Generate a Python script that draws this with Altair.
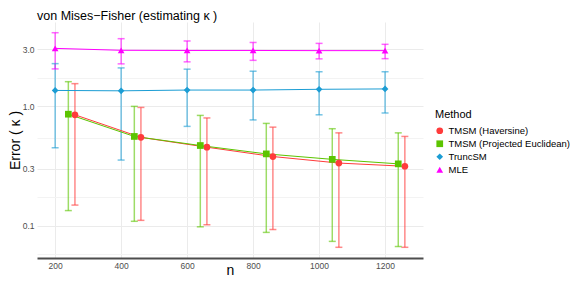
import altair as alt
import pandas as pd

n_values = [200, 400, 600, 800, 1000, 1200]
methods = ["TMSM (Haversine)", "TMSM (Projected Euclidean)", "TruncSM", "MLE"]
colors = ["#FF3B3B", "#5CC400", "#1B9DD4", "#FF00FF"]
shapes = ["circle", "square", "diamond", "triangle-up"]

hav = [0.85, 0.55, 0.455, 0.38, 0.335, 0.315]
hav_lo = [0.149, 0.111, 0.102, 0.093, 0.066, 0.066]
hav_hi = [1.55, 0.98, 0.80, 0.67, 0.60, 0.56]

proj = [0.86, 0.56, 0.47, 0.40, 0.36, 0.33]
proj_lo = [0.134, 0.109, 0.098, 0.088, 0.074, 0.067]
proj_hi = [1.61, 1.0, 0.84, 0.72, 0.65, 0.60]

trunc = [1.36, 1.35, 1.37, 1.37, 1.39, 1.40]
trunc_lo = [0.45, 0.355, 0.68, 0.77, 0.85, 0.88]
trunc_hi = [2.28, 2.10, 2.05, 1.97, 1.95, 1.95]

mle = [3.06, 2.95, 2.94, 2.94, 2.93, 2.93]
mle_lo = [2.06, 2.27, 2.36, 2.43, 2.50, 2.51]
mle_hi = [4.14, 3.69, 3.53, 3.43, 3.37, 3.31]

rows = []
for m, e, lo, hi in [
    (methods[0], hav, hav_lo, hav_hi),
    (methods[1], proj, proj_lo, proj_hi),
    (methods[2], trunc, trunc_lo, trunc_hi),
    (methods[3], mle, mle_lo, mle_hi),
]:
    for i, n in enumerate(n_values):
        rows.append({"method": m, "n": n, "err": e[i], "lo": lo[i], "hi": hi[i]})
df = pd.DataFrame(rows)

FONT = "Liberation Sans"
major_y = "indexof([0.1,0.3,1,3], datum.value) >= 0"
major_x = "datum.value % 200 == 0"

x_enc = alt.X(
    "pos:Q",
    title="n",
    scale=alt.Scale(domain=[145, 1315], nice=False, zero=False),
    axis=alt.Axis(
        values=[200, 300, 400, 500, 600, 700, 800, 900, 1000, 1100, 1200, 1300],
        labelExpr=f"{major_x} ? datum.value : ''",
        gridColor={"condition": {"test": major_x, "value": "#EBEBEB"}, "value": "#F3F3F3"},
        ticks=False,
        domain=True,
        domainColor="#4D4D4D",
        domainWidth=2,
        labelFontSize=8.5,
        labelColor="#4D4D4D",
        labelPadding=3,
        titleFontSize=14,
        titleFontWeight="normal",
        titleColor="black",
        titlePadding=-6,
    ),
)
y_scale = alt.Scale(type="log", domain=[0.0537, 5.09], nice=False)
y_axis = alt.Axis(
    values=[0.058, 0.1, 0.173, 0.3, 0.548, 1, 1.73, 3],
    labelExpr=f"{major_y} ? format(datum.value, '.1f') : ''",
    gridColor={"condition": {"test": major_y, "value": "#EBEBEB"}, "value": "#F3F3F3"},
    ticks=False,
    domain=False,
    labelFontSize=8.5,
    labelColor="#4D4D4D",
    labelPadding=3,
    titleFontSize=14,
    titleFontWeight="normal",
    titleColor="black",
    titlePadding=0,
)

legend = alt.Legend(
    orient="none",
    legendX=398,
    legendY=87,
    titleFontSize=11,
    titleFontWeight="normal",
    titleColor="black",
    labelFontSize=9.5,
    labelColor="black",
    symbolSize=40,
    symbolOpacity=1,
    rowPadding=2,
    titlePadding=6,
    symbolStrokeWidth=0,
)
color_enc = alt.Color("method:N", title="Method", scale=alt.Scale(domain=methods, range=colors), legend=legend)
shape_enc = alt.Shape("method:N", title="Method", scale=alt.Scale(domain=methods, range=shapes), legend=legend)

base = alt.Chart(df).transform_calculate(
    pos="datum.n + (datum.method == 'TMSM (Haversine)' ? 60 : datum.method == 'TMSM (Projected Euclidean)' ? 40 : 0)"
)

rules = base.mark_rule(strokeWidth=1.5, opacity=0.6).encode(
    x=x_enc,
    y=alt.Y("lo:Q", scale=y_scale, axis=y_axis, title="Error ( κ )"),
    y2="hi:Q",
    color=color_enc,
    detail="method:N",
)
caps_lo = base.mark_tick(orient="horizontal", size=7, thickness=1.5, opacity=0.6).encode(
    x=alt.X("pos:Q"),
    y=alt.Y("lo:Q"),
    color=color_enc,
)
caps_hi = base.mark_tick(orient="horizontal", size=7, thickness=1.5, opacity=0.6).encode(
    x=alt.X("pos:Q"),
    y=alt.Y("hi:Q"),
    color=color_enc,
)
lines = base.mark_line(strokeWidth=1).encode(
    x=alt.X("pos:Q"),
    y=alt.Y("err:Q"),
    color=color_enc,
    detail="method:N",
)
points = base.mark_point(filled=True, opacity=1).encode(
    x=alt.X("pos:Q"),
    y=alt.Y("err:Q"),
    color=color_enc,
    shape=shape_enc,
    size=alt.Size("method:N", scale=alt.Scale(domain=methods, range=[45, 45, 28, 60]), legend=None),
)

chart = (
    alt.layer(rules, caps_lo, caps_hi, lines, points)
    .properties(
        width=386,
        height=236,
        autosize=alt.AutoSizeParams(type="none"),
        padding={"left": 29, "top": 14, "right": 150, "bottom": 20},
        title=alt.Title(
            "von Mises−Fisher (estimating κ )",
            anchor="start",
            frame="group",
            fontSize=12.5,
            fontWeight="normal",
            font=FONT,
            color="black",
            offset=0,
        ),
    )
    .configure(font=FONT)
    .configure_view(stroke=None)
)

chart.save("out.html", embed_options={"renderer": "svg", "actions": False})
